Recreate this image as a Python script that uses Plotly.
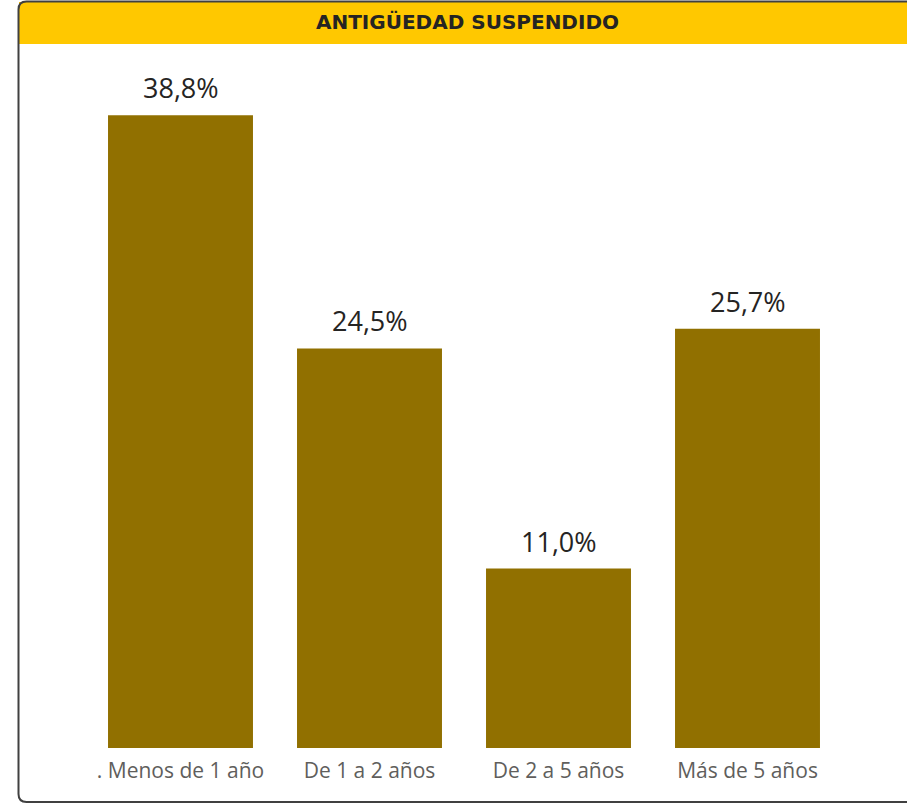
import plotly.graph_objects as go

categories = [". Menos de 1 año", "De 1 a 2 años", "De 2 a 5 años", "Más de 5 años"]
values = [38.8, 24.5, 11.0, 25.7]
title_text = "ANTIGÜEDAD SUSPENDIDO"

W, H = 907, 804
L, R, T, B = 86, 65, 60, 56
pw, ph = W - L - R, H - T - B

def px(x):
    return (x - L) / pw

def py(y):
    return (H - B - y) / ph

labels = [f"{v:.1f}".replace(".", ",") + "%" for v in values]

fig = go.Figure(go.Bar(
    x=categories, y=values,
    marker=dict(color="#917000", line=dict(width=0)),
    cliponaxis=False, hoverinfo="skip",
))

yr = ph / 16.31

# frame path with rounded corners
r = 8
x0, x1, y0, y1 = 18.5, 940, 1.5, 802
path = (f"M {px(x1)},{py(y0)} L {px(x0 + r)},{py(y0)} Q {px(x0)},{py(y0)} {px(x0)},{py(y0 + r)} "
        f"L {px(x0)},{py(y1 - r)} Q {px(x0)},{py(y1)} {px(x0 + r)},{py(y1)} L {px(x1)},{py(y1)}")

shapes = [
    dict(type="rect", xref="paper", yref="paper", x0=px(19), x1=px(940), y0=py(44), y1=py(2),
         fillcolor="#FFC800", line=dict(width=0), layer="above"),
    dict(type="path", xref="paper", yref="paper", path=path,
         line=dict(color="#404040", width=2), layer="above"),
]

annotations = [dict(text=f"<b>{title_text}</b>", xref="paper", yref="paper",
                    x=px(467), y=py(22), xanchor="center", yanchor="middle",
                    showarrow=False, font=dict(family="DejaVu Sans", size=20, color="#252423"))]
for c, v, t in zip(categories, values, labels):
    annotations.append(dict(text=t, x=c, y=v, xref="x", yref="y", xanchor="center",
                            yanchor="bottom", yshift=7, showarrow=False,
                            font=dict(family="Open Sans", size=27, color="#252423")))

fig.update_layout(
    width=W, height=H, margin=dict(l=L, r=R, t=T, b=B),
    paper_bgcolor="white", plot_bgcolor="white",
    bargap=0.233, showlegend=False,
    xaxis=dict(showgrid=False, zeroline=False, showline=False, ticks="",
               ticklabelstandoff=8,
               tickfont=dict(family="Open Sans", size=21, color="#605E5C")),
    yaxis=dict(visible=False, range=[0, yr], showgrid=False, zeroline=False),
    shapes=shapes,
    annotations=annotations,
)

fig.write_html("out.html", config={"displayModeBar": False},
               post_script="document.body.style.margin='0';")
